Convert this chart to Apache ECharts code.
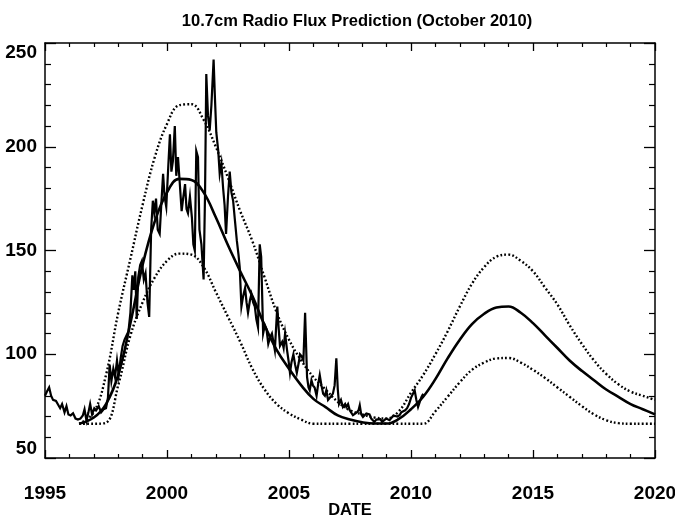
<!DOCTYPE html>
<html>
<head>
<meta charset="utf-8">
<script src="https://cdn.jsdelivr.net/npm/echarts@6/dist/echarts.min.js"></script>
<style>html,body{margin:0;padding:0;background:#fff}#c{width:675px;height:519px}</style>
</head>
<body>
<div id="c"></div>
<script>
// Observed monthly 10.7cm flux
const obsYears = [1995.00,1995.08,1995.17,1995.25,1995.33,1995.45,1995.53,1995.62,1995.70,1995.80,1995.88,1995.96,1996.05,1996.15,1996.25,1996.35,1996.45,1996.55,1996.62,1996.70,1996.78,1996.85,1996.93,1997.02,1997.10,1997.20,1997.30,1997.40,1997.50,1997.58,1997.65,1997.72,1997.80,1997.87,1997.95,1998.02,1998.10,1998.18,1998.26,1998.34,1998.42,1998.50,1998.58,1998.64,1998.70,1998.76,1998.82,1998.90,1998.97,1999.05,1999.12,1999.20,1999.27,1999.35,1999.42,1999.48,1999.55,1999.62,1999.70,1999.76,1999.84,1999.90,1999.97,2000.05,2000.12,2000.18,2000.24,2000.32,2000.38,2000.45,2000.52,2000.60,2000.66,2000.74,2000.80,2000.86,2000.94,2001.02,2001.08,2001.14,2001.20,2001.27,2001.33,2001.41,2001.50,2001.56,2001.61,2001.68,2001.75,2001.82,2001.91,2001.96,2002.02,2002.10,2002.16,2002.23,2002.30,2002.36,2002.42,2002.50,2002.57,2002.64,2002.71,2002.78,2002.86,2002.93,2002.98,2003.05,2003.12,2003.20,2003.26,2003.32,2003.40,2003.46,2003.53,2003.60,2003.66,2003.73,2003.80,2003.86,2003.94,2004.01,2004.08,2004.15,2004.22,2004.30,2004.36,2004.42,2004.52,2004.58,2004.63,2004.72,2004.78,2004.84,2004.92,2004.98,2005.04,2005.10,2005.18,2005.25,2005.32,2005.40,2005.45,2005.52,2005.59,2005.66,2005.74,2005.80,2005.85,2005.92,2005.98,2006.05,2006.13,2006.20,2006.26,2006.33,2006.40,2006.47,2006.53,2006.60,2006.67,2006.74,2006.80,2006.87,2006.94,2007.00,2007.05,2007.13,2007.21,2007.30,2007.35,2007.42,2007.49,2007.56,2007.62,2007.70,2007.78,2007.85,2007.90,2007.96,2008.03,2008.10,2008.17,2008.23,2008.30,2008.37,2008.44,2008.50,2008.58,2008.66,2008.74,2008.82,2008.90,2008.98,2009.05,2009.12,2009.20,2009.28,2009.36,2009.44,2009.53,2009.60,2009.68,2009.76,2009.84,2009.92,2010.00,2010.08,2010.15,2010.22,2010.29,2010.36,2010.43,2010.50];
const obsFlux = [80,82,84,80,78,77.5,77,74,76,72,75,71,70.5,71.5,69,68.5,69,70.5,73.5,68,72,76,71,74,73,75,72,73.5,74,79,95,87,93,89,97,90,98,104,107,109,111,120,138,131,140,117,137,143,145,136,139,125,118,160,174,168,175,160,158,171,187,176,171,190,206,188,193,210,186,195,183,169,175,182,170,168,176,166,153,150,198,195,160,153,136,178,235,215,208,220,242,225,207,198,187,192,180,172,158,176,188,178,174,165,155,148,142,123,128,132,125,120,126,129,125,123,117,113,153,147,110,114,112,105,108,110,106,102,123,112,104,106,103,110,102,97,91,96,100,95,91,96,100,99,97,120,89,84,82.6,87.5,85,84,80,86,90,85,81,80,82.6,78,78.6,80,81,85,98,83,76,78,74.6,76,74.6,76,73,72.5,70.6,71.5,72,73,75.4,71,69.8,70.5,71.5,70.6,71,69,69.8,67.4,68.5,68,68.7,67.4,68.2,69,68.5,68.2,69,70.5,71.4,70,70.6,72,71.5,73,74,76,79,81,82.6,78,74.6,77,79.4,81];

// Smoothed / predicted cycle curves
const curveYears = [1996.4,1997.0,1997.5,1998.0,1998.5,1999.0,1999.5,2000.0,2000.5,2001.0,2001.5,2002.0,2002.5,2003.0,2003.5,2004.0,2004.5,2005.0,2005.5,2006.0,2006.5,2007.0,2007.5,2008.0,2008.5,2009.0,2009.5,2010.0,2010.5,2011.0,2011.5,2012.0,2012.5,2013.0,2013.5,2014.0,2014.5,2015.0,2015.5,2016.0,2016.5,2017.0,2017.5,2018.0,2018.5,2019.0,2019.5,2020.0];
const midFlux = [66.5,69.5,76,90,115,143,164,178,184.5,184,178,166,152.5,140,128,114,102,93,85,78.5,74.5,70.5,68.5,67.2,66.6,66.6,68.8,73.5,79.5,88,98,107,114.5,119.5,122.5,123,120,115,109,103,97,92,87.5,83,79.5,76,73.5,71];
const upperFlux = [66.5,72,90,120,146,172,195,211,220,220.5,213,200,185,169,154.5,137,120,107,97,89,83,77,73,71,69.5,69,72.5,81.5,90,100,111,123,134,142,147,148,145,140,132,124,114,105,97,90.5,85.5,82,80,78];
const lowerFlux = [66.5,66.5,67,85,109,125,137,145,148.5,148,142,130,118,106,93,83,76,71.5,68.5,66.5,66.5,66.5,66.5,66.5,66.5,66.5,66.5,66.5,66.5,72.5,79.5,86.5,92.5,96,98,98.2,96,92.5,88.5,84,79.5,75,71,68.2,66.8,66.5,66.5,66.5];

const xTicks = [1995, 2000, 2005, 2010, 2015, 2020];
const yTicks = [50, 100, 150, 200, 250];

const pair = (xs, ys) => xs.map((x, i) => [x, ys[i]]);
const FONT = 'Liberation Sans';
const chart = echarts.init(document.getElementById('c'), null, {renderer: 'canvas'});

const axisLineStyle = {color: '#000', width: 1.5};
const dotted = {color: '#000', width: 2.4, type: [1.8, 2.2], cap: 'butt'};

chart.setOption({
  animation: false,
  backgroundColor: '#fff',
  title: {
    text: '10.7cm Radio Flux Prediction (October 2010)',
    left: 352, top: 8, textAlign: 'center',
    textStyle: {fontFamily: FONT, fontWeight: 'bold', fontSize: 16.5, color: '#000'}
  },
  grid: {left: 45, right: 20, top: 43, bottom: 61, containLabel: false, outerBoundsMode: 'none'},
  xAxis: [{
    type: 'value', min: xTicks[0], max: xTicks[xTicks.length - 1], interval: 5,
    name: 'DATE', nameLocation: 'middle', nameGap: 44, nameMoveOverlap: false,
    nameTextStyle: {fontFamily: FONT, fontWeight: 'bold', fontSize: 16.5, color: '#000'},
    axisLine: {show: true, lineStyle: axisLineStyle},
    axisTick: {show: true, inside: true, length: 8, lineStyle: {color: '#000', width: 1.3}},
    minorTick: {show: true, splitNumber: 5, length: 4, lineStyle: {color: '#000', width: 1.2}},
    splitLine: {show: false},
    axisLabel: {margin: 26, fontFamily: FONT, fontWeight: 'bold', fontSize: 19, color: '#000',
      formatter: v => String(v)}
  }, {
    type: 'value', position: 'top', min: xTicks[0], max: xTicks[xTicks.length - 1], interval: 5,
    axisLine: {show: true, lineStyle: axisLineStyle},
    axisTick: {show: true, inside: true, length: 8, lineStyle: {color: '#000', width: 1.3}},
    minorTick: {show: true, splitNumber: 5, length: 4, lineStyle: {color: '#000', width: 1.2}},
    splitLine: {show: false}, axisLabel: {show: false}
  }],
  yAxis: [{
    type: 'value', min: yTicks[0], max: yTicks[yTicks.length - 1], interval: 50,
    axisLine: {show: true, lineStyle: axisLineStyle},
    axisTick: {show: true, inside: true, length: 11, lineStyle: {color: '#000', width: 1.3}},
    minorTick: {show: true, splitNumber: 5, length: 6, lineStyle: {color: '#000', width: 1.2}},
    splitLine: {show: false},
    axisLabel: {margin: 8, fontFamily: FONT, fontWeight: 'bold', fontSize: 19, color: '#000',
      verticalAlignMaxLabel: 'top', verticalAlignMinLabel: 'bottom'}
  }, {
    type: 'value', position: 'right', min: yTicks[0], max: yTicks[yTicks.length - 1], interval: 50,
    axisLine: {show: true, lineStyle: axisLineStyle},
    axisTick: {show: true, inside: true, length: 11, lineStyle: {color: '#000', width: 1.3}},
    minorTick: {show: true, splitNumber: 5, length: 6, lineStyle: {color: '#000', width: 1.2}},
    splitLine: {show: false}, axisLabel: {show: false}
  }],
  series: [
    {type: 'line', name: 'upper', data: pair(curveYears, upperFlux), showSymbol: false, smooth: 0.4, lineStyle: dotted, z: 2},
    {type: 'line', name: 'lower', data: pair(curveYears, lowerFlux), showSymbol: false, smooth: 0.4, lineStyle: dotted, z: 2},
    {type: 'line', name: 'predicted', data: pair(curveYears, midFlux), showSymbol: false, smooth: 0.4, lineStyle: {color: '#000', width: 2.6}, z: 3},
    {type: 'line', name: 'observed', data: pair(obsYears, obsFlux), showSymbol: false, lineStyle: {color: '#000', width: 2.2, join: 'miter'}, z: 4}
  ]
});
</script>
</body>
</html>
